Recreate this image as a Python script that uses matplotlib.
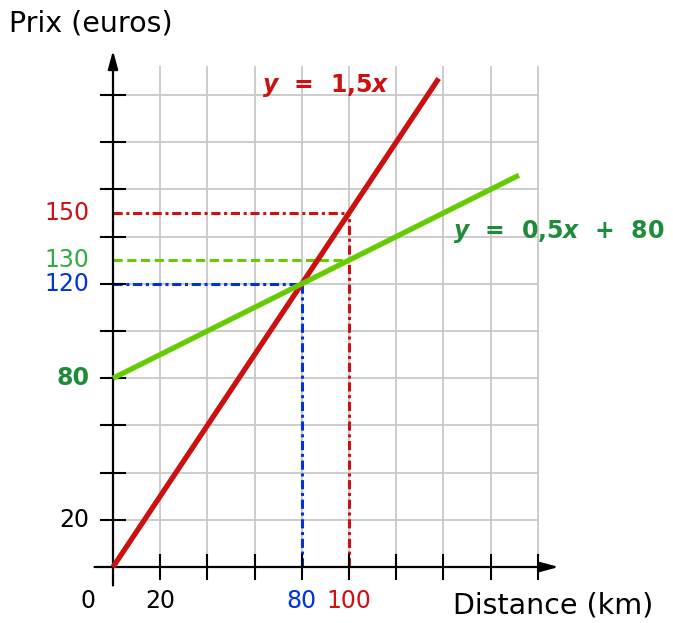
import matplotlib.pyplot as plt
import numpy as np

# data
slope_red = 1.5
slope_green, icpt_green = 0.5, 80
red_x = [0, 138]
green_x = [0, 172]
x_ticks = [20, 40, 60, 80, 100, 120, 140, 160, 180]
y_ticks = [20, 40, 60, 80, 100, 120, 140, 160, 180, 200]
inter_x, inter_y = 80, 120
red_pt = (100, 150)
green_pt = (100, 130)

RED = "#cc1111"
GREEN = "#66cc00"
DKGREEN = "#1e8c3a"
BLUE = "#0033dd"

fig = plt.figure(figsize=(6.73, 6.23), dpi=100)
ax = fig.add_axes([0, 0, 1, 1])
sc = 2.36
ax.set_xlim(-113 / sc, (673 - 113) / sc)
ax.set_ylim(-(623 - 567) / sc, 567 / sc)
ax.axis("off")

# grid
for gx in x_ticks:
    ax.plot([gx, gx], [0, 212], color="#c8c8c8", lw=1.3, zorder=1)
for gy in y_ticks:
    ax.plot([0, 180], [gy, gy], color="#c8c8c8", lw=1.3, zorder=1)

# axes with arrows
ax.annotate("", xy=(190, 0), xytext=(-9, 0),
            arrowprops=dict(arrowstyle="-|>,head_length=1.1,head_width=0.3", color="black", lw=1.6), zorder=3)
ax.annotate("", xy=(0, 220), xytext=(0, -9),
            arrowprops=dict(arrowstyle="-|>,head_length=1.1,head_width=0.3", color="black", lw=1.6), zorder=3)
for gx in x_ticks:
    ax.plot([gx, gx], [-5, 5], color="black", lw=1.5, zorder=3)
for gy in y_ticks:
    ax.plot([-5, 5], [gy, gy], color="black", lw=1.5, zorder=3)

# dashed guides
dd = (0, (3, 1.2, 1, 1.2))
ax.plot([0, red_pt[0]], [red_pt[1], red_pt[1]], color=RED, lw=2.2, ls=dd, zorder=2)
ax.plot([red_pt[0], red_pt[0]], [0, red_pt[1]], color=RED, lw=2.2, ls=dd, zorder=2)
ax.plot([0, green_pt[0]], [green_pt[1], green_pt[1]], color=GREEN, lw=2.2, ls=(0, (3, 1.5)), zorder=2)
ax.plot([0, inter_x], [inter_y, inter_y], color=BLUE, lw=2.2, ls=dd, zorder=2)
ax.plot([inter_x, inter_x], [0, inter_y], color=BLUE, lw=2.2, ls=dd, zorder=2)

# main lines
rx = np.array(red_x)
gx_ = np.array(green_x)
ax.plot(rx, slope_red * rx, color=RED, lw=3.8, solid_capstyle="butt", zorder=4)
ax.plot(gx_, slope_green * gx_ + icpt_green, color=GREEN, lw=3.8, solid_capstyle="butt", zorder=4)

fs = 17
# tick labels
ax.text(-10.5, -14.5, "0", fontsize=fs, ha="center", va="center")
ax.text(20, -14.5, "20", fontsize=fs, ha="center", va="center")
ax.text(inter_x, -14.5, "80", fontsize=fs, ha="center", va="center", color=BLUE)
ax.text(red_pt[0], -14.5, "100", fontsize=fs, ha="center", va="center", color=RED)
ax.text(-10, 20, "20", fontsize=fs, ha="right", va="center")
ax.text(-10, 80, "80", fontsize=fs, ha="right", va="center", color=DKGREEN, weight="bold")
ax.text(-10, inter_y, "120", fontsize=fs, ha="right", va="center", color=BLUE)
ax.text(-10, green_pt[1], "130", fontsize=fs, ha="right", va="center", color="#33aa44")
ax.text(-10, red_pt[1], "150", fontsize=fs, ha="right", va="center", color=RED)

# axis titles
ax.text(-44, 230.5, "Prix (euros)", fontsize=20.5, ha="left", va="center")
ax.text(144, -16.5, "Distance (km)", fontsize=20.5, ha="left", va="center")

# equations
ax.text(63, 204, r"$\boldsymbol{y}$  =  1,5$\boldsymbol{x}$", fontsize=fs, ha="left", va="center",
        color=RED, weight="bold")
ax.text(144, 142, r"$\boldsymbol{y}$  =  0,5$\boldsymbol{x}$  +  80", fontsize=fs, ha="left", va="center",
        color=DKGREEN, weight="bold")

fig.savefig("out.png", dpi=100, facecolor="white")
